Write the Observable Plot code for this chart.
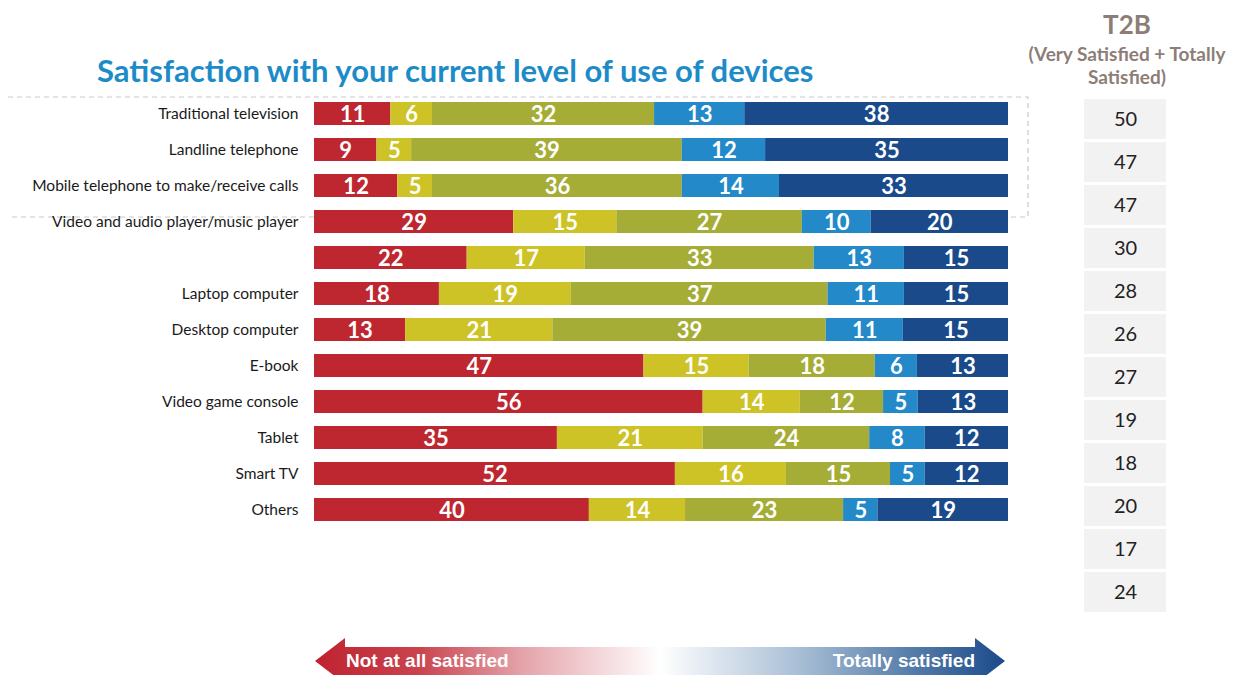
<!DOCTYPE html>
<html><head><meta charset="utf-8">
<script src="https://cdn.jsdelivr.net/npm/d3@7"></script>
<script src="https://cdn.jsdelivr.net/npm/@observablehq/plot@0.6"></script>
<style>
body{margin:0;background:#fff;}
#wrap{position:relative;width:1238px;height:675px;overflow:hidden;font-family:Lato,"Open Sans",sans-serif;background:#fff;}
.abs{position:absolute;}
#title{left:97px;top:49px;font-size:31px;font-weight:700;color:#1e8bc9;white-space:nowrap;line-height:42px;}
#hdr{left:1007px;top:6px;width:240px;text-align:center;color:#8c7e77;font-weight:700;}
#hdr .big{font-size:26px;line-height:36px;}
#hdr .small{font-size:19px;line-height:23px;}
</style>
</head><body>
<div id="wrap">
  <svg class="abs" style="left:0;top:0" width="1238" height="675">
    <g fill="none" stroke="#c9c9c9" stroke-width="1.2" stroke-dasharray="5,4">
      <path d="M8,97H1028V217H8"/>
    </g>
  </svg>
  <div id="main" class="abs" style="left:0;top:0"></div>
  <div id="title" class="abs">Satisfaction with your current level of use of devices</div>
  <div id="hdr" class="abs"><div class="big">T2B</div><div class="small">(Very Satisfied + Totally<br>Satisfied)</div></div>
  <div id="t2b" class="abs" style="left:1084px;top:0"></div>
  <svg class="abs" style="left:0;top:0" width="1238" height="675">
    <defs>
      <linearGradient id="grad" x1="0" x2="1" y1="0" y2="0">
        <stop offset="0" stop-color="#bf2230"/>
        <stop offset="0.15" stop-color="#c9434e"/>
        <stop offset="0.3" stop-color="#e4a3aa"/>
        <stop offset="0.5" stop-color="#ffffff"/>
        <stop offset="0.7" stop-color="#a9bfd6"/>
        <stop offset="0.85" stop-color="#5d82ad"/>
        <stop offset="1" stop-color="#1a4a8a"/>
      </linearGradient>
    </defs>
    <polygon fill="url(#grad)" points="315,661 345,638 345,647 975,647 975,638 1005,661 975,684 975,690 345,690 345,684"/>
    <text x="346" y="667" fill="#fff" font-family="'Liberation Sans Narrow','Arial Narrow',sans-serif" font-weight="700" font-size="19">Not at all satisfied</text>
    <text x="975" y="667" text-anchor="end" fill="#fff" font-family="'Liberation Sans Narrow','Arial Narrow',sans-serif" font-weight="700" font-size="19">Totally satisfied</text>
  </svg>
</div>
<script>
const devices = ["Traditional television","Landline telephone","Mobile telephone to make/receive calls","Video and audio player/music player","","Laptop computer","Desktop computer","E-book","Video game console","Tablet","Smart TV","Others"];
const levels = ["Not at all satisfied","Slightly satisfied","Satisfied","Very satisfied","Totally satisfied"];
const notAtAll  = [11, 9,12,29,22,18,13,47,56,35,52,40];
const slightly  = [ 6, 5, 5,15,17,19,21,15,14,21,16,14];
const satisfied = [32,39,36,27,33,37,39,18,12,24,15,23];
const very      = [13,12,14,10,13,11,11, 6, 5, 8, 5, 5];
const totally   = [38,35,33,20,15,15,15,13,13,12,12,19];
const t2b       = [50,47,47,30,28,26,27,19,18,20,17,24];
const colors = ["#be2630","#cdc226","#a5ad37","#2389c9","#1b4a8b"];

const series = [notAtAll, slightly, satisfied, very, totally];
const rows = [];
devices.forEach((d, i) => series.forEach((arr, j) => rows.push({row: i, level: levels[j], value: arr[i]})));

const main = Plot.plot({
  width: 1238, height: 560,
  marginLeft: 314, marginRight: 230, marginTop: 87, marginBottom: 24,
  x: {axis: null},
  y: {domain: d3.range(devices.length), padding: 0.36, tickSize: 0, tickPadding: 16, tickFormat: i => devices[i], label: null},
  color: {domain: levels, range: colors},
  style: {background: "transparent", fontFamily: "Lato, sans-serif", fontSize: "15.5px", color: "#1a1a1a"},
  marks: [
    Plot.barX(rows, Plot.stackX({offset: "normalize", x: "value", y: "row", z: "level", fill: "level"})),
    Plot.text(rows, Plot.stackX({offset: "normalize", x: "value", y: "row", z: "level", text: "value", fill: "white", fontWeight: 700, fontSize: 22, dy: 1}))
  ]
});
document.getElementById("main").appendChild(main);

const t2bRows = t2b.map((v, i) => ({row: i, v}));
const side = Plot.plot({
  width: 82, height: 650,
  marginLeft: 0, marginRight: 0, marginTop: 98, marginBottom: 37,
  x: {axis: null, domain: ["T2B"], padding: 0},
  y: {axis: null, domain: d3.range(t2b.length), paddingInner: 0.07, paddingOuter: 0},
  style: {background: "transparent", fontFamily: "Lato, sans-serif"},
  marks: [
    Plot.cell(t2bRows, {x: () => "T2B", y: "row", fill: "#f2f2f2"}),
    Plot.text(t2bRows, {x: () => "T2B", y: "row", text: "v", fontSize: 20, fill: "#222"})
  ]
});
document.getElementById("t2b").appendChild(side);
</script>
</body></html>
